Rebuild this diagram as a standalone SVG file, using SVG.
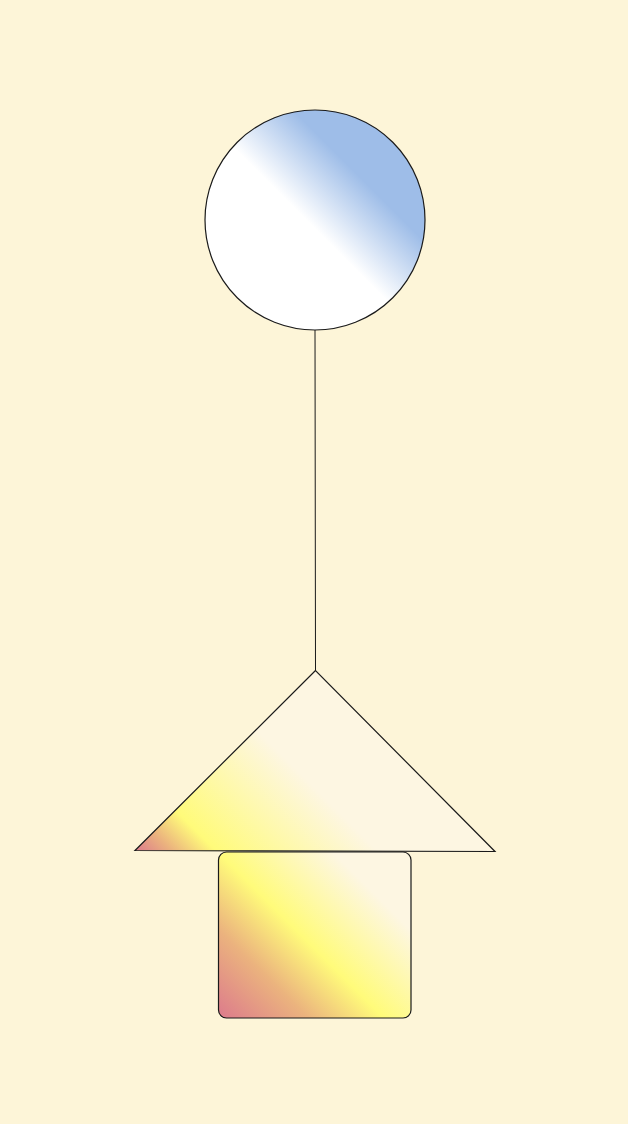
<svg xmlns="http://www.w3.org/2000/svg" width="628" height="1124" viewBox="0 0 628 1124">
<style>
.shape{stroke:#1a1a1a;stroke-width:1.2}
.conn{stroke:#1a1a1a;stroke-width:1;fill:none}
</style>
<defs>
<linearGradient id="gCircle" x1="0" y1="1" x2="1" y2="0">
<stop offset="0" stop-color="#ffffff"/>
<stop offset="0.48" stop-color="#ffffff"/>
<stop offset="0.7" stop-color="#9ebde8"/>
<stop offset="1" stop-color="#9ebde8"/>
</linearGradient>
<linearGradient id="gTri" gradientUnits="userSpaceOnUse" x1="135" y1="851" x2="405" y2="581">
<stop offset="0" stop-color="#dc7a8c"/>
<stop offset="0.07" stop-color="#ebb37e"/>
<stop offset="0.15" stop-color="#fffb7a"/>
<stop offset="0.45" stop-color="#fdf6e2"/>
<stop offset="1" stop-color="#fdf6e2"/>
</linearGradient>
<linearGradient id="gRect" gradientUnits="userSpaceOnUse" x1="218" y1="1018" x2="398" y2="838">
<stop offset="0" stop-color="#dc7a8c"/>
<stop offset="0.25" stop-color="#ebb37e"/>
<stop offset="0.46" stop-color="#fffb7a"/>
<stop offset="0.78" stop-color="#fdf6e2"/>
<stop offset="1" stop-color="#fdf6e2"/>
</linearGradient>
</defs>
<rect width="628" height="1124" fill="#fdf5d8"/>
<g id="connectors">
<line class="conn" x1="315" y1="330" x2="315.5" y2="670"/>
</g>
<g id="node-circle">
<circle class="shape" cx="315" cy="220" r="110" fill="url(#gCircle)"/>
</g>
<g id="node-triangle">
<polygon class="shape" points="315.5,670.5 135,850.5 495,851.5" fill="url(#gTri)"/>
</g>
<g id="node-rect">
<rect class="shape" x="218.5" y="852" width="192.5" height="166" rx="8" fill="url(#gRect)"/>
</g>
</svg>
